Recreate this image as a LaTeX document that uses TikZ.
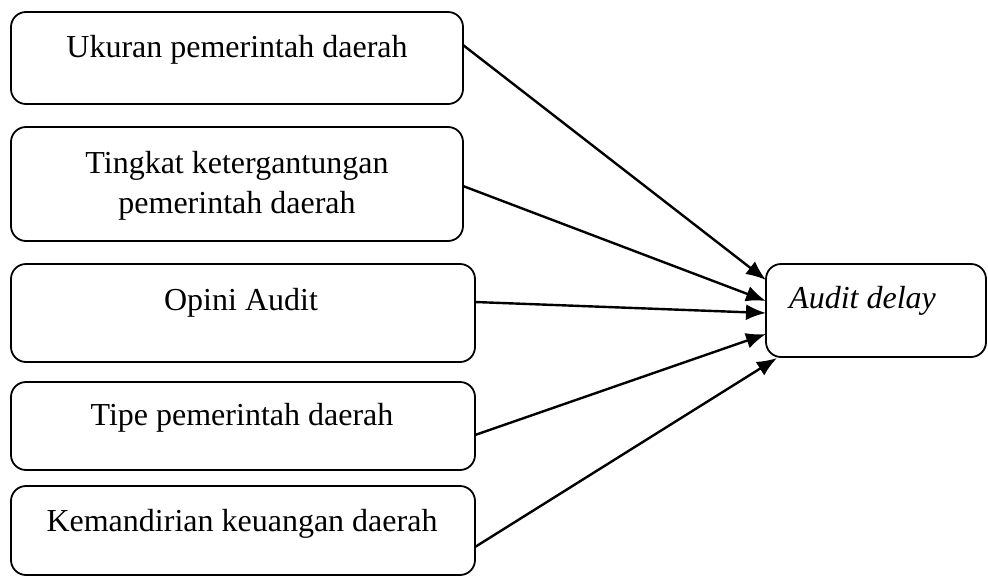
\documentclass[tikz,border=0pt]{standalone}
\usepackage{fontspec}
\setmainfont{Liberation Serif}
\usetikzlibrary{arrows.meta}
\begin{document}
\begin{tikzpicture}[x=1pt,y=-1pt,
  boxshape/.style={draw,line width=1.8pt,rounded corners=15pt},
  lbl/.style={anchor=base,font=\fontsize{32}{40}\selectfont,inner sep=0pt,align=center},
  conn/.style={line width=2.4pt,-{Latex[length=20pt,width=16pt]}}]
\useasboundingbox (0,0) rectangle (988,576);
% boxes
\draw[boxshape] (11,12) rectangle (463,104);
\draw[boxshape] (11,127) rectangle (463,241);
\draw[boxshape] (11,264) rectangle (475,362);
\draw[boxshape] (11,382) rectangle (475,470);
\draw[boxshape] (11,486) rectangle (475,575);
\draw[boxshape] (766,264) rectangle (986,357);
% labels
\node[lbl] (t1) at (237,57) {Ukuran pemerintah daerah};
\node[lbl] (t2) at (237,173) {Tingkat ketergantungan};
\node[lbl] (t2b) at (237,213) {pemerintah daerah};
\node[lbl] (t3) at (241,310) {Opini Audit};
\node[lbl] (t4) at (242,425) {Tipe pemerintah daerah};
\node[lbl] (t5) at (242,531) {Kemandirian keuangan daerah};
\node[lbl,anchor=base west] (t6) at (789,308) {\itshape Audit delay};
% connector endpoints
\coordinate (s1) at (463,45);
\coordinate (s2) at (463,186);
\coordinate (s3) at (475,302);
\coordinate (s4) at (475,435);
\coordinate (s5) at (475,547);
\coordinate (e1) at (766,280);
\coordinate (e2) at (766,301);
\coordinate (e3) at (766,313);
\coordinate (e4) at (766,334);
\coordinate (e5) at (777,358);
\draw[conn] (s1) -- (e1);
\draw[conn] (s2) -- (e2);
\draw[conn] (s3) -- (e3);
\draw[conn] (s4) -- (e4);
\draw[conn] (s5) -- (e5);
\end{tikzpicture}
\end{document}
